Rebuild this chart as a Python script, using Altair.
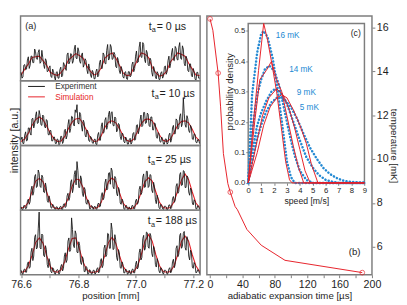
import altair as alt
import numpy as np
import pandas as pd

FONT = "Liberation Sans"
RED = "#e61e26"
BLACK = "#161616"
BLUE = "#2389d3"
FRAME = "#7d7d7d"
TEXT = "#1e1e1e"

# ---------------- (a) fringe traces, intensity in % of panel height ----------------
# exp_* : samples on a 100-point grid; exp_*_mid : samples half-way between them
position_range_mm = [76.6, 77.222]
exp_0us = [13, 6, 25, 18, 37, 24, 38, 28, 45, 33, 48, 29, 36, 19, 31, 15, 23, 5, 14, 1,
           14, 4, 21, 8, 25, 16, 43, 29, 41, 31, 55, 34, 46, 27, 43, 25, 31, 11, 19, 5,
           13, 3, 18, 8, 32, 19, 40, 26, 56, 34, 52, 34, 41, 20, 31, 11, 17, 4, 14, 2,
           14, 8, 29, 19, 46, 29, 60, 36, 56, 28, 43, 23, 32, 7, 17, 3, 11, 2, 14, 7,
           23, 14, 38, 27, 50, 31, 50, 32, 59, 33, 49, 23, 34, 14, 26, 6, 14, 0, 13, 4]
exp_0us_mid = [4, 24, 17, 32, 19, 38, 28, 49, 34, 44, 27, 47, 25, 34, 14, 20, 7, 18, 6, 13,
               4, 17, 6, 28, 20, 40, 26, 42, 27, 49, 35, 51, 30, 40, 21, 34, 17, 26, 9, 16,
               3, 14, 6, 28, 19, 43, 27, 47, 32, 56, 33, 44, 22, 36, 15, 22, 6, 13, 3, 14,
               6, 25, 14, 38, 28, 52, 37, 59, 33, 47, 25, 35, 13, 22, 6, 14, 2, 12, 4, 21,
               10, 31, 20, 43, 32, 53, 33, 52, 35, 54, 27, 38, 16, 26, 8, 19, 3, 13, 4]
sim_0us = [9, 18, 26, 36, 37, 38, 31, 24, 13, 10, 8, 13, 20, 32, 37, 42, 39, 35, 23, 15,
           9, 11, 20, 35, 40, 43, 35, 24, 12, 8, 9, 21, 33, 43, 41, 36, 21, 12, 7, 9,
           15, 29, 36, 43, 41, 38, 27, 18, 9, 8]
exp_10us = [9, 3, 16, 7, 27, 19, 41, 27, 45, 34, 54, 32, 47, 29, 40, 17, 23, 7, 13, 3,
            10, 1, 14, 3, 23, 10, 32, 20, 45, 33, 55, 63, 33, 48, 22, 35, 13, 22, 6, 12,
            3, 10, 1, 20, 8, 35, 20, 43, 31, 53, 51, 31, 44, 21, 34, 14, 19, 6, 13, 2,
            9, 2, 18, 8, 31, 18, 39, 29, 51, 34, 50, 31, 44, 24, 35, 14, 20, 6, 13, 2,
            10, 2, 16, 5, 27, 18, 41, 25, 45, 29, 74, 32, 46, 23, 31, 10, 18, 5, 9, 3]
exp_10us_mid = [13, 3, 21, 8, 27, 16, 42, 33, 52, 35, 47, 31, 45, 27, 38, 16, 23, 7, 13, 3,
                9, 3, 14, 6, 25, 15, 40, 26, 44, 30, 51, 35, 51, 30, 39, 16, 24, 8, 14, 4,
                9, 2, 16, 8, 30, 19, 39, 25, 48, 34, 52, 30, 42, 24, 32, 9, 18, 4, 10, 2,
                11, 5, 20, 9, 32, 24, 47, 31, 51, 35, 48, 29, 44, 24, 33, 11, 18, 5, 9, 2,
                10, 4, 19, 10, 31, 18, 39, 28, 49, 34, 49, 28, 41, 20, 27, 9, 17, 4, 9]
sim_10us = [6, 10, 19, 31, 40, 44, 40, 30, 19, 10, 6, 7, 14, 26, 36, 41, 42, 34, 23, 12,
            6, 7, 15, 28, 36, 38, 35, 26, 15, 8, 6, 10, 22, 34, 40, 41, 38, 28, 16, 8,
            6, 10, 20, 31, 37, 38, 35, 25, 13, 7]
exp_25us = [5, 1, 7, 3, 17, 13, 37, 28, 55, 37, 57, 35, 51, 27, 34, 12, 16, 3, 7, 1,
            5, 1, 6, 1, 10, 6, 26, 20, 47, 34, 61, 75, 35, 53, 26, 35, 11, 16, 2, 7,
            1, 6, 1, 11, 6, 27, 19, 48, 33, 58, 65, 36, 52, 26, 35, 11, 17, 2, 7, 1,
            5, 1, 7, 2, 17, 12, 37, 27, 56, 36, 60, 37, 54, 27, 36, 10, 16, 2, 7, 1,
            6, 0, 8, 2, 18, 12, 37, 26, 55, 38, 61, 35, 53, 28, 34, 11, 16, 2, 7, 1]
exp_25us_mid = [1, 7, 2, 14, 9, 31, 23, 52, 35, 62, 37, 54, 28, 42, 15, 22, 4, 9, 2, 5,
                1, 5, 1, 9, 4, 22, 15, 43, 27, 55, 39, 61, 35, 48, 21, 32, 9, 14, 2, 6,
                5, 2, 9, 5, 22, 16, 42, 31, 57, 40, 61, 33, 49, 22, 31, 9, 14, 1, 7, 1,
                2, 7, 2, 14, 9, 32, 24, 51, 35, 60, 35, 55, 31, 43, 16, 23, 4, 9, 2, 6,
                5, 2, 8, 4, 21, 15, 41, 29, 58, 39, 60, 35, 51, 23, 31, 8, 14, 2, 6]
sim_25us = [3, 5, 12, 29, 45, 49, 44, 28, 12, 4, 2, 3, 7, 19, 37, 48, 47, 35, 18, 6,
            3, 4, 12, 28, 44, 50, 44, 27, 11, 4, 2, 4, 12, 28, 44, 50, 45, 28, 12, 4,
            3, 4, 13, 30, 46, 56, 47, 28, 11, 4]
exp_188us = [7, 1, 9, 4, 20, 12, 41, 29, 62, 42, 97, 40, 61, 28, 39, 11, 19, 3, 9, 1,
             8, 1, 13, 6, 29, 19, 52, 36, 88, 46, 68, 35, 51, 19, 28, 5, 13, 1, 8, 1,
             7, 1, 9, 3, 21, 11, 41, 28, 64, 41, 80, 39, 62, 27, 39, 11, 20, 3, 9, 1,
             7, 1, 9, 3, 21, 12, 40, 27, 61, 42, 65, 41, 60, 28, 39, 12, 19, 3, 9, 1,
             7, 1, 9, 3, 20, 11, 41, 28, 61, 41, 64, 42, 59, 29, 38, 12, 19, 3, 8, 2]
exp_188us_mid = [2, 8, 4, 17, 10, 35, 22, 58, 40, 71, 42, 63, 30, 45, 16, 25, 5, 11, 2, 6,
                 7, 4, 16, 10, 34, 23, 57, 39, 70, 42, 63, 34, 45, 16, 24, 5, 11, 2, 6, 2,
                 7, 3, 11, 5, 25, 15, 46, 31, 63, 41, 70, 40, 54, 22, 34, 10, 16, 3, 7, 2,
                 2, 8, 3, 16, 9, 34, 23, 56, 38, 66, 43, 64, 33, 44, 16, 25, 6, 11, 3, 7,
                 6, 2, 11, 6, 24, 16, 45, 32, 64, 44, 67, 38, 54, 23, 34, 10, 16, 4, 7]
sim_188us = [4, 5, 14, 30, 50, 57, 49, 30, 13, 5, 4, 8, 21, 40, 56, 57, 40, 20, 8, 4,
             4, 5, 14, 30, 50, 58, 49, 30, 13, 5, 4, 5, 14, 31, 52, 62, 52, 31, 14, 5,
             4, 5, 14, 31, 51, 60, 52, 31, 14, 5]
position_ticks = [76.6, 76.7, 76.8, 76.9, 77.0, 77.1, 77.2]

# ---------------- (b) temperature vs adiabatic expansion time ----------------
time_us = [0, 3.5, 10, 13, 16.5, 22, 25, 31, 33.8, 45.5, 63.2, 92.6, 188]
temp_mK = [16.39, 15.87, 13.92, 12.41, 10.25, 8.88, 8.49, 7.83, 7.69, 6.79, 6.07, 5.38, 4.82]
marker_time_us = [0, 10, 25, 188]
marker_temp_mK = [16.39, 13.92, 8.49, 4.82]
time_ticks = [0, 20, 40, 60, 80, 100, 120, 140, 160, 180, 200]
temp_ticks = [6, 8, 10, 12, 14, 16]

# ---------------- (c) speed distributions ----------------
curve_names = ["16 mK", "14 mK", "9 mK", "5 mK"]
blue_speed = [
    [0, 0.3, 0.7, 1.0, 1.2, 1.5, 1.9, 2.3, 2.7, 3.0, 3.3, 3.6, 9],
    [0, 0.3, 0.7, 1.0, 1.3, 1.65, 2.0, 2.4, 2.8, 3.2, 3.6, 4.0, 4.5, 5.0, 9],
    [0, 0.3, 0.7, 1.0, 1.4, 1.8, 2.1, 2.5, 3.0, 3.5, 4.0, 4.5, 5.0, 5.5, 6.0, 6.5, 7.0, 9],
    [0, 0.3, 0.7, 1.0, 1.4, 1.8, 2.3, 2.8, 3.3, 3.8, 4.3, 4.8, 5.3, 5.8, 6.3, 6.8, 7.3, 7.8, 8.3, 9.0],
]
blue_density = [
    [0, 0.29, 0.43, 0.49, 0.50, 0.48, 0.41, 0.30, 0.17, 0.07, 0.02, 0, 0],
    [0, 0.17, 0.29, 0.34, 0.375, 0.385, 0.37, 0.32, 0.24, 0.16, 0.09, 0.04, 0.01, 0, 0],
    [0, 0.10, 0.19, 0.23, 0.27, 0.30, 0.31, 0.30, 0.26, 0.20, 0.14, 0.085, 0.05, 0.025, 0.01, 0.004, 0, 0],
    [0, 0.07, 0.15, 0.19, 0.235, 0.265, 0.283, 0.275, 0.25, 0.21, 0.16, 0.115, 0.08, 0.05, 0.03, 0.017, 0.008, 0.004, 0.002, 0.001],
]
red_speed = [
    [0, 0.4, 0.8, 1.2, 1.5, 1.8, 2.2, 2.6, 2.9, 3.2, 3.4, 9],
    [0, 0.5, 0.9, 1.4, 1.8, 2.2, 2.6, 3.0, 3.5, 3.9, 4.3, 9],
    [0, 0.6, 1.1, 1.6, 2.2, 2.7, 3.2, 3.6, 4.0, 4.4, 4.8, 9],
    [0, 0.7, 1.2, 1.7, 2.2, 2.6, 3.0, 3.5, 4.0, 4.5, 4.9, 5.4, 9],
]
red_density = [
    [0, 0.20, 0.37, 0.525, 0.47, 0.40, 0.30, 0.17, 0.07, 0.01, 0, 0],
    [0, 0.20, 0.34, 0.37, 0.40, 0.34, 0.30, 0.22, 0.12, 0.05, 0, 0],
    [0, 0.12, 0.22, 0.28, 0.31, 0.29, 0.24, 0.18, 0.11, 0.04, 0, 0],
    [0, 0.10, 0.19, 0.25, 0.28, 0.29, 0.28, 0.24, 0.19, 0.13, 0.06, 0, 0],
]
label_speed = [2.14, 3.17, 3.76, 3.99]
label_density = [0.488, 0.375, 0.30, 0.25]
speed_ticks = [0, 1, 2, 3, 4, 5, 6, 7, 8, 9]
density_ticks = [0, 0.1, 0.2, 0.3, 0.4, 0.5]

ONE = pd.DataFrame({"k": [0]})
W_L, H_L = 186, 67
W_R, H_R = 171, 268


def txt(s, x, y, size, color=TEXT, align="left", baseline="alphabetic", angle=0):
    kw = dict(text=s, fontSize=size, color=color, align=align, baseline=baseline, font=FONT)
    if angle:
        kw["angle"] = angle
    return alt.Chart(ONE).mark_text(**kw).encode(x=alt.value(x), y=alt.value(y))


def tlabel(tval, xt, yb):
    return [txt("t", xt, yb, 11), txt("a", xt + 3.3, yb + 2.6, 7.5), txt(f"= {tval} µs", xt + 8.3, yb, 11)]


XS = alt.Scale(domain=[76.598, 77.224], nice=False, zero=False)
YS = alt.Scale(domain=[0, 100], nice=False, zero=False)


def trace_frame(main, mid):
    xm = np.linspace(*position_range_mm, len(main))
    xh = xm[:-1] + (xm[1] - xm[0]) / 2
    df = pd.DataFrame({"pos": np.concatenate([xm, xh]), "intensity": list(main) + list(mid)})
    return df.sort_values("pos").reset_index(drop=True)


def left_panel(exp, exp_mid, sim, tval, xt, yb, bottom=False, extras=()):
    de = trace_frame(exp, exp_mid)
    ds = pd.DataFrame({"pos": np.linspace(*position_range_mm, len(sim)), "intensity": sim})
    if bottom:
        xax = alt.Axis(values=position_ticks,
                       labelExpr="round(datum.value*10) % 2 == 0 ? format(datum.value, '.1f') : ''",
                       title="position [mm]", labelFontSize=11, titleFontSize=10, tickSize=3,
                       labelPadding=1.5, titlePadding=1.5, domain=False)
    else:
        xax = None
    sim_line = alt.Chart(ds).mark_line(color=RED, strokeWidth=1.1).encode(
        x=alt.X("pos:Q", scale=XS, axis=xax), y=alt.Y("intensity:Q", scale=YS, axis=None))
    exp_line = alt.Chart(de).mark_line(color=BLACK, strokeWidth=0.9).encode(
        x=alt.X("pos:Q", scale=XS, axis=xax), y=alt.Y("intensity:Q", scale=YS, axis=None))
    layers = [sim_line, exp_line] + tlabel(tval, xt, yb) + list(extras)
    return alt.layer(*layers).properties(width=W_L, height=H_L)


legend = [
    alt.Chart(ONE).mark_rule(color=BLACK, strokeWidth=1).encode(x=alt.value(7.8), x2=alt.value(25.2), y=alt.value(5.9)),
    alt.Chart(ONE).mark_rule(color=RED, strokeWidth=1).encode(x=alt.value(7.8), x2=alt.value(25.2), y=alt.value(16.7)),
    txt("Experiment", 35.9, 5.9, 8.5, color="#333333", baseline="middle"),
    txt("Simulation", 35.9, 16.7, 8.5, color=RED, baseline="middle"),
]
ytitle = txt("intensity [a.u.]", -2.5, 62, 11, align="center", angle=270)

p1 = left_panel(exp_0us, exp_0us_mid, sim_0us, "0", 132.7, 14.2, extras=[txt("(a)", 4.8, 13.7, 9.5)])
p2 = left_panel(exp_10us, exp_10us_mid, sim_10us, "10", 135.6, 16.7, extras=legend + [ytitle])
p3 = left_panel(exp_25us, exp_25us_mid, sim_25us, "25", 131.8, 17.7)
p4 = left_panel(exp_188us, exp_188us_mid, sim_188us, "188", 131.8, 14.7, bottom=True)
left = alt.vconcat(p1, p2, p3, p4, spacing=0, bounds="flush")

# ---------------- right panel ----------------
TX = alt.Scale(domain=[-3.9, 200], nice=False, zero=False)
TY = alt.Scale(domain=[4.72, 16.52], nice=False, zero=False)
ax_time = alt.Axis(orient="bottom", values=time_ticks, labelExpr="datum.value % 40 == 0 ? datum.label : ''",
                   title="adiabatic expansion time [µs]", labelFontSize=11, titleFontSize=10, tickSize=3,
                   labelPadding=1.5, titlePadding=1.5, domain=False)
ax_temp = alt.Axis(orient="right", values=temp_ticks, title="temperature [mK]", labelFontSize=11,
                   titleFontSize=10, tickSize=3, labelPadding=1.5, titlePadding=0.5, domain=False)
df_main = pd.DataFrame({"time": time_us, "temp": temp_mK})
df_mark = pd.DataFrame({"time": marker_time_us, "temp": marker_temp_mK})
main_line = alt.Chart(df_main).mark_line(color=RED, strokeWidth=1).encode(
    x=alt.X("time:Q", scale=TX, axis=ax_time), y=alt.Y("temp:Q", scale=TY, axis=ax_temp))
main_pts = alt.Chart(df_mark).mark_point(shape="circle", filled=False, color=RED, size=24, strokeWidth=1).encode(
    x=alt.X("time:Q", scale=TX, axis=ax_time), y=alt.Y("temp:Q", scale=TY, axis=ax_temp))
main = alt.layer(main_line, main_pts, txt("(b)", 147, 247, 10))

IX = alt.Scale(domain=[0, 9], range=[42.8, 163.2], nice=False, zero=False)
IY = alt.Scale(domain=[0, 0.525], range=[172.8, 7.6], nice=False, zero=False)
ax_speed = alt.Axis(orient="bottom", offset=-95.2, values=speed_ticks, labelFontSize=8, tickSize=2.5,
                    labelPadding=1, title="speed [m/s]", titleFontSize=9, titlePadding=2.5, domain=False)
ax_pdf = alt.Axis(orient="left", offset=-42.8, values=density_ticks, format=".1f", labelFontSize=8,
                  tickSize=2.5, labelPadding=1, title="probability density", titleFontSize=10,
                  titlePadding=0, titleY=78, domain=False)

rows_b, rows_r = [], []
for name, vs, ps in zip(curve_names, blue_speed, blue_density):
    rows_b += [{"curve": name, "speed": v, "density": p} for v, p in zip(vs, ps)]
for name, vs, ps in zip(curve_names, red_speed, red_density):
    rows_r += [{"curve": name, "speed": v, "density": p} for v, p in zip(vs, ps)]
df_blue = pd.DataFrame(rows_b)
df_red = pd.DataFrame(rows_r)
df_lab = pd.DataFrame({"curve": curve_names, "speed": label_speed, "density": label_density})
df_frame = pd.DataFrame({"v0": [0], "v1": [9], "p0": [0], "p1": [0.525]})

ix = dict(scale=IX, axis=ax_speed)
iy = dict(scale=IY, axis=ax_pdf)
inset_frame = alt.Chart(df_frame).mark_rect(fill="white", stroke=FRAME, strokeWidth=1.5).encode(
    x=alt.X("v0:Q", **ix), x2="v1:Q", y=alt.Y("p0:Q", **iy), y2="p1:Q")
blue = alt.Chart(df_blue).mark_line(color=BLUE, strokeWidth=2.6, strokeDash=[0.1, 3.4], strokeCap="round").encode(
    x=alt.X("speed:Q", **ix), y=alt.Y("density:Q", **iy), detail="curve:N")
red = alt.Chart(df_red).mark_line(color=RED, strokeWidth=1).encode(
    x=alt.X("speed:Q", **ix), y=alt.Y("density:Q", **iy), detail="curve:N")
labels = alt.Chart(df_lab).mark_text(color=BLUE, fontSize=8.5, align="left", baseline="middle", font=FONT).encode(
    x=alt.X("speed:Q", **ix), y=alt.Y("density:Q", **iy), text="curve:N")
inset = alt.layer(inset_frame, blue, red, labels, txt("(c)", 149, 21, 9))

right = alt.layer(main, inset).resolve_scale(x="independent", y="independent").resolve_axis(
    x="independent", y="independent").properties(width=W_R, height=H_R)

chart = alt.hconcat(left, right, spacing=0).properties(padding=0).configure(
    font=FONT).configure_view(stroke=FRAME, strokeWidth=1.5).configure_axis(
    labelFont=FONT, titleFont=FONT, titleFontWeight="normal", labelColor=TEXT, titleColor=TEXT,
    tickColor=FRAME, domainColor=FRAME, grid=False, labelFlush=False, labelOverlap=False)

chart.save("out.html", embed_options={"renderer": "svg", "actions": False})
